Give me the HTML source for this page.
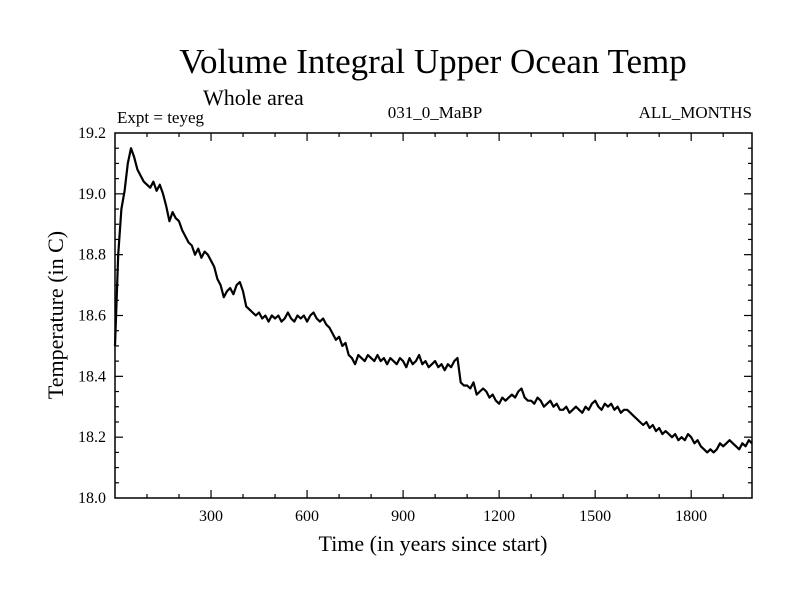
<!DOCTYPE html>
<html><head><meta charset="utf-8"><style>
body{margin:0;background:#fff;}
svg text{font-family:"Liberation Serif",serif;fill:#000;}
</style></head><body>
<svg id="chart" width="800" height="600" xmlns="http://www.w3.org/2000/svg">
<text x="433" y="73" font-size="35" text-anchor="middle">Volume Integral Upper Ocean Temp</text>
<text x="203" y="105" font-size="22">Whole area</text>
<text x="117" y="123" font-size="17">Expt = teyeg</text>
<text x="435" y="118" font-size="17" text-anchor="middle">031_0_MaBP</text>
<text x="752" y="118" font-size="17" text-anchor="end">ALL_MONTHS</text>
<text x="433" y="551" font-size="22" text-anchor="middle">Time (in years since start)</text>
<text transform="translate(63,315) rotate(-90)" font-size="22" text-anchor="middle">Temperature (in C)</text>
<g id="axes"></g>
<path id="series" fill="none" stroke="#000" stroke-width="2.2" stroke-linejoin="round"/>
<rect x="115" y="133" width="637" height="365" fill="none" stroke="#000" stroke-width="1.5"/>
</svg>
<script>
const xTicks=[300,600,900,1200,1500,1800];
const yTicks=[18.0,18.2,18.4,18.6,18.8,19.0,19.2];
const yTickLabels=["18.0","18.2","18.4","18.6","18.8","19.0","19.2"];
const years=[];for(let i=0;i<=199;i++)years.push(i*10);
const temps=[18.50,18.80,18.95,19.01,19.10,19.15,19.12,19.08,19.06,19.04,
19.03,19.02,19.04,19.01,19.03,19.00,18.96,18.91,18.94,18.92,
18.91,18.88,18.86,18.84,18.83,18.80,18.82,18.79,18.81,18.80,
18.78,18.76,18.72,18.70,18.66,18.68,18.69,18.67,18.70,18.71,
18.68,18.63,18.62,18.61,18.60,18.61,18.59,18.60,18.58,18.60,
18.59,18.60,18.58,18.59,18.61,18.59,18.58,18.60,18.59,18.60,
18.58,18.60,18.61,18.59,18.58,18.59,18.57,18.56,18.54,18.52,
18.53,18.50,18.51,18.47,18.46,18.44,18.47,18.46,18.45,18.47,
18.46,18.45,18.47,18.45,18.46,18.44,18.46,18.45,18.44,18.46,
18.45,18.43,18.46,18.44,18.45,18.47,18.44,18.45,18.43,18.44,
18.45,18.43,18.44,18.42,18.44,18.43,18.45,18.46,18.38,18.37,
18.37,18.36,18.38,18.34,18.35,18.36,18.35,18.33,18.34,18.32,
18.31,18.33,18.32,18.33,18.34,18.33,18.35,18.36,18.33,18.32,
18.32,18.31,18.33,18.32,18.30,18.31,18.32,18.30,18.31,18.29,
18.29,18.30,18.28,18.29,18.30,18.29,18.28,18.30,18.29,18.31,
18.32,18.30,18.29,18.31,18.30,18.31,18.29,18.30,18.28,18.29,
18.29,18.28,18.27,18.26,18.25,18.24,18.25,18.23,18.24,18.22,
18.23,18.21,18.22,18.21,18.20,18.21,18.19,18.20,18.19,18.21,
18.20,18.18,18.19,18.17,18.16,18.15,18.16,18.15,18.16,18.18,
18.17,18.18,18.19,18.18,18.17,18.16,18.18,18.17,18.19,18.18];
const X0=115,X1=752,Y0=498,Y1=133,XMAX=1990,YMIN=18.0,YMAX=19.2;
const sx=v=>X0+(v/XMAX)*(X1-X0);
const sy=v=>Y0-(v-YMIN)/(YMAX-YMIN)*(Y0-Y1);
let d="";
for(let i=0;i<temps.length;i++){d+=(i?"L":"M")+sx(years[i]).toFixed(1)+","+sy(temps[i]).toFixed(1);}
document.getElementById("series").setAttribute("d",d);
const g=document.getElementById("axes");
const NS="http://www.w3.org/2000/svg";
function line(x1,y1,x2,y2){const l=document.createElementNS(NS,"line");
l.setAttribute("x1",x1);l.setAttribute("y1",y1);l.setAttribute("x2",x2);l.setAttribute("y2",y2);
l.setAttribute("stroke","#000");l.setAttribute("stroke-width","1.2");


g.appendChild(l);}
for(let v=100;v<XMAX;v+=100){const x=sx(v);const len=(v%300===0)?8:4;line(x,Y0,x,Y0-len);line(x,Y1,x,Y1+len);}
for(let v=18.05;v<19.19;v+=0.05){const y=sy(v);const major=Math.abs((v*10)%2)<0.01||Math.abs((v*10)%2-2)<0.01;const len=major?8:4;line(X0,y,X0+len,y);line(X1,y,X1-len,y);}
xTicks.forEach(v=>{const t=document.createElementNS(NS,"text");
t.setAttribute("x",sx(v));t.setAttribute("y",Y0+23);t.setAttribute("font-size","16");t.setAttribute("text-anchor","middle");t.textContent=v;


g.appendChild(t);});
yTicks.forEach((v,i)=>{const t=document.createElementNS(NS,"text");
t.setAttribute("x",X0-9);t.setAttribute("y",sy(v)+5);t.setAttribute("font-size","16");t.setAttribute("text-anchor","end");t.textContent=yTickLabels[i];


g.appendChild(t);});
</script>
</body></html>
